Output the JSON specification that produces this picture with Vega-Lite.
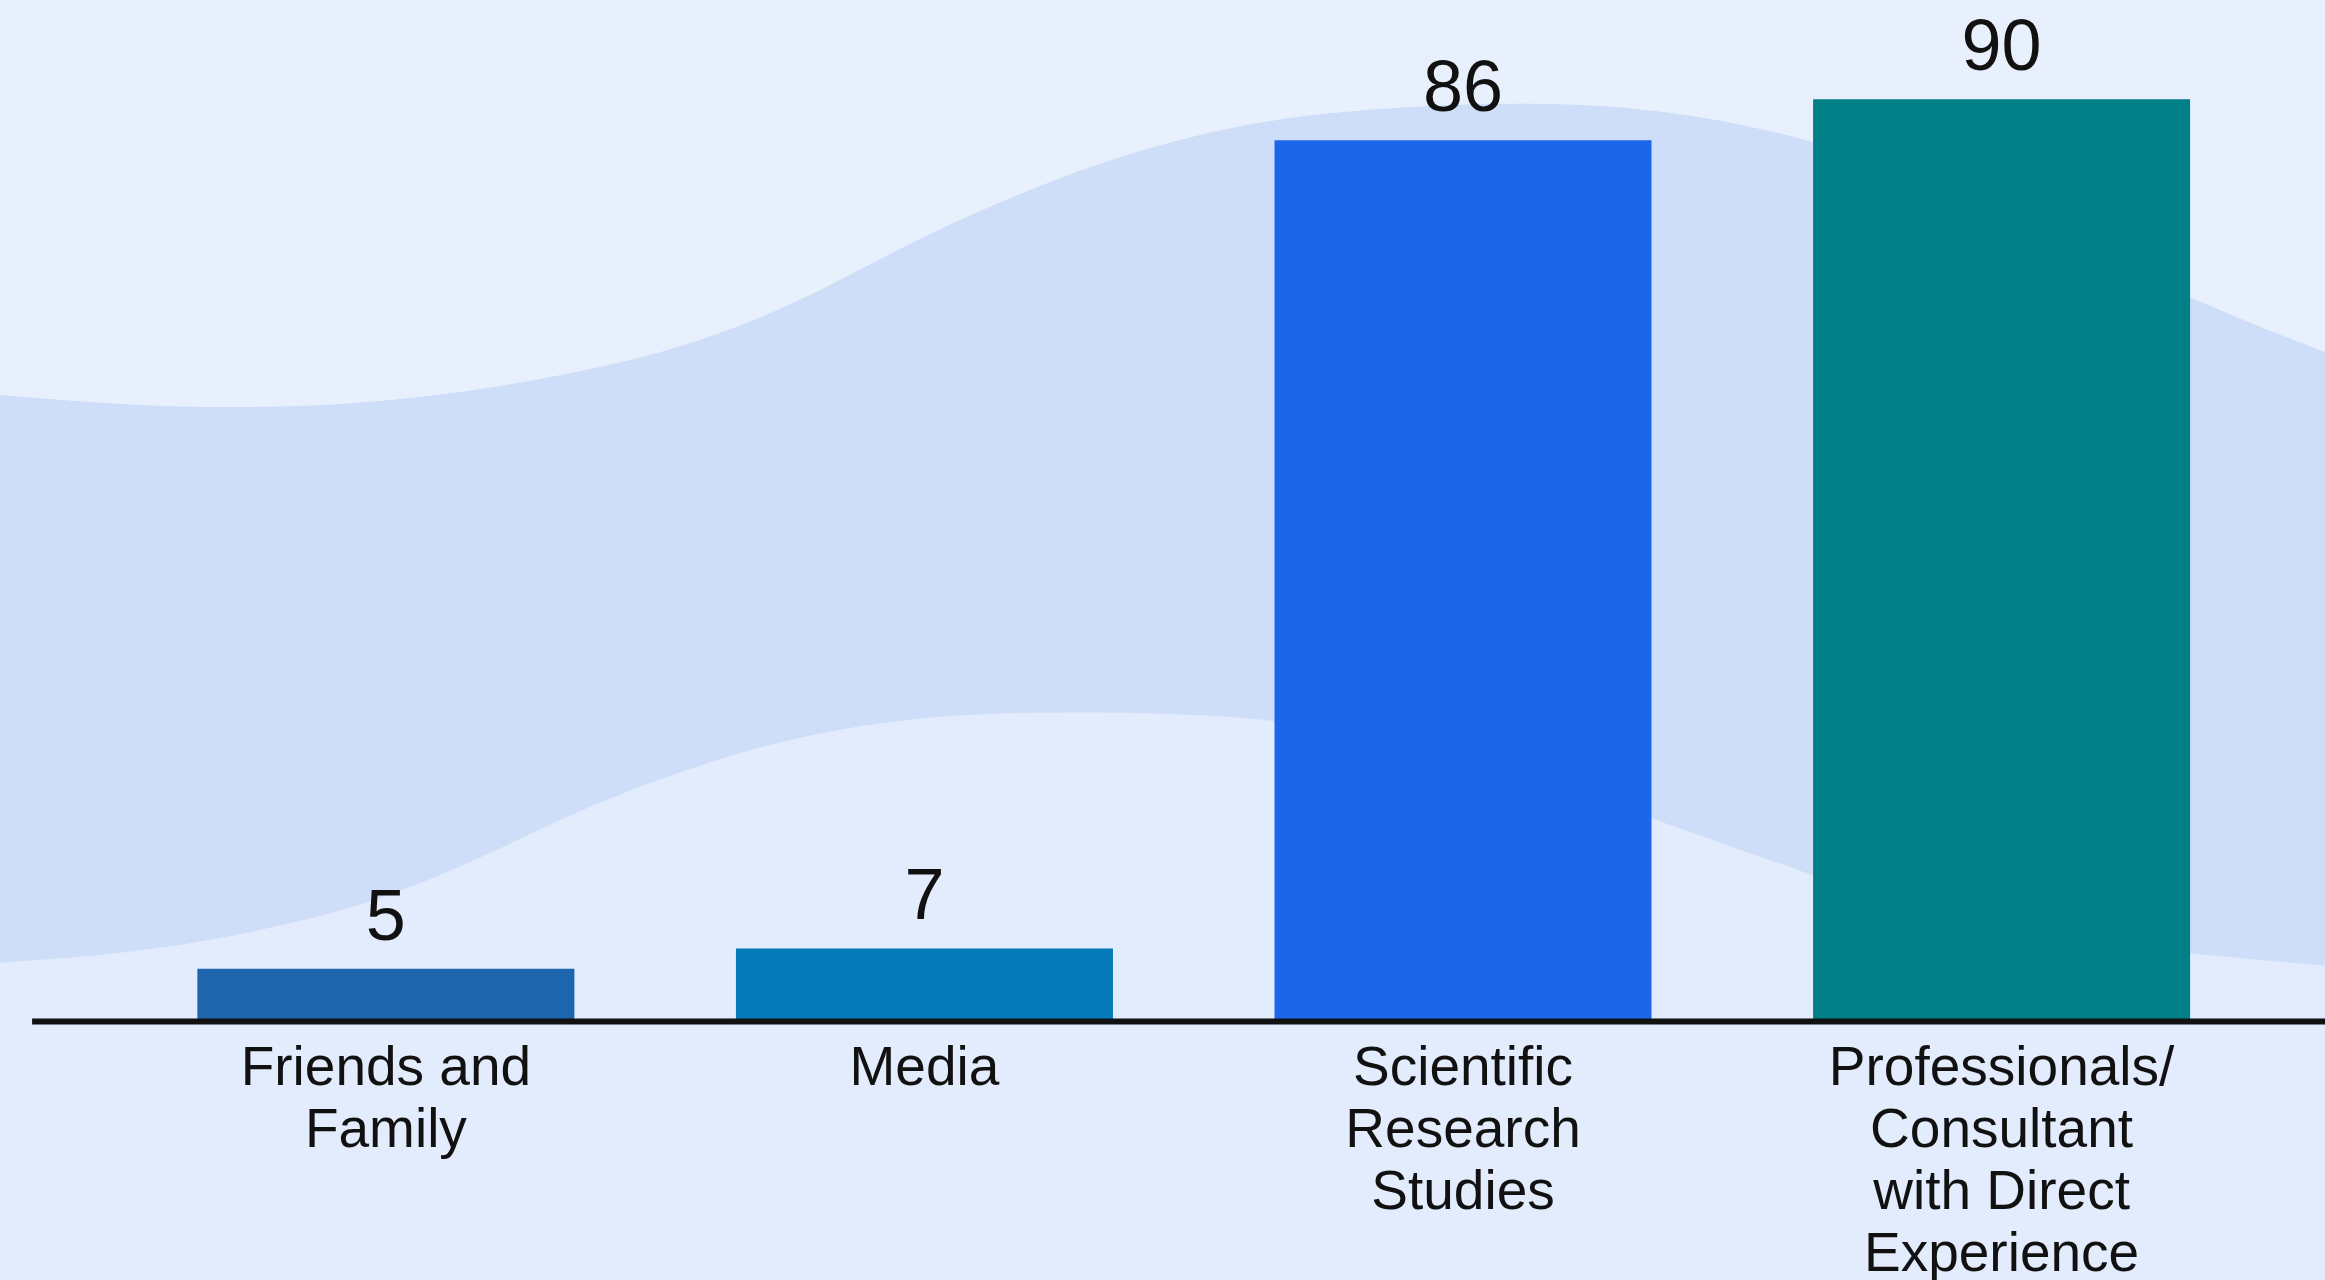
{
  "$schema": "https://vega.github.io/schema/vega-lite/v6.json",
  "width": 2325,
  "height": 1020,
  "autosize": {"type": "none"},
  "padding": {"left": 0, "top": 0, "right": 0, "bottom": 260},
  "background": "#e3ecfc",
  "config": {"view": {"stroke": null}},
  "datasets": {
    "upperEdge": [
      {"pos": 0, "v": 61.1},
      {"pos": 5.3, "v": 60.1},
      {"pos": 10.7, "v": 59.8},
      {"pos": 16.0, "v": 60.3},
      {"pos": 21.4, "v": 61.8},
      {"pos": 26.8, "v": 64.2},
      {"pos": 30.3, "v": 66.5},
      {"pos": 33.9, "v": 69.7},
      {"pos": 37.5, "v": 74.0},
      {"pos": 41.0, "v": 78.0},
      {"pos": 44.6, "v": 81.5},
      {"pos": 48.1, "v": 84.4},
      {"pos": 51.7, "v": 86.7},
      {"pos": 55.9, "v": 88.5},
      {"pos": 61.0, "v": 89.4},
      {"pos": 66.1, "v": 89.7},
      {"pos": 71.0, "v": 89.2},
      {"pos": 77.8, "v": 86.5},
      {"pos": 86.0, "v": 79.5},
      {"pos": 94.1, "v": 70.5},
      {"pos": 100, "v": 65.3}
    ],
    "lowerEdge": [
      {"pos": 0, "v": 5.6},
      {"pos": 4.5, "v": 6.3},
      {"pos": 8.9, "v": 7.6},
      {"pos": 14.3, "v": 10.3},
      {"pos": 17.8, "v": 13.0},
      {"pos": 21.4, "v": 16.6},
      {"pos": 24.9, "v": 20.5},
      {"pos": 28.5, "v": 23.7},
      {"pos": 32.1, "v": 26.4},
      {"pos": 35.7, "v": 28.3},
      {"pos": 39.2, "v": 29.5},
      {"pos": 42.8, "v": 30.0},
      {"pos": 46.4, "v": 30.1},
      {"pos": 49.9, "v": 30.0},
      {"pos": 54.6, "v": 29.5},
      {"pos": 60.0, "v": 27.4},
      {"pos": 65.0, "v": 24.4},
      {"pos": 70.9, "v": 19.9},
      {"pos": 77.9, "v": 14.1},
      {"pos": 82.0, "v": 11.3},
      {"pos": 86.0, "v": 9.3},
      {"pos": 90.0, "v": 7.6},
      {"pos": 94.1, "v": 6.5},
      {"pos": 100, "v": 5.3}
    ],
    "bars": [
      {"source": "Friends and Family", "value": 5},
      {"source": "Media", "value": 7},
      {"source": "Scientific Research Studies", "value": 86},
      {"source": "Professionals/Consultant with Direct Experience", "value": 90}
    ]
  },
  "layer": [
    {
      "data": {"name": "upperEdge"},
      "mark": {"type": "area", "interpolate": "basis", "color": "#cfdef8", "clip": true},
      "encoding": {
        "x": {"field": "pos", "type": "quantitative", "scale": {"domain": [0, 100], "nice": false, "zero": false}, "axis": null},
        "y": {"field": "v", "type": "quantitative", "scale": {"domain": [0, 99.7], "nice": false}, "axis": null},
        "y2": {"datum": 0}
      }
    },
    {
      "data": {"name": "upperEdge"},
      "mark": {"type": "area", "interpolate": "basis", "color": "#e8f0fd", "clip": true},
      "encoding": {
        "x": {"field": "pos", "type": "quantitative", "scale": {"domain": [0, 100], "nice": false, "zero": false}, "axis": null},
        "y": {"field": "v", "type": "quantitative", "scale": {"domain": [0, 99.7], "nice": false}, "axis": null},
        "y2": {"datum": 99.7}
      }
    },
    {
      "data": {"name": "lowerEdge"},
      "mark": {"type": "area", "interpolate": "basis", "color": "#e3ecfc", "clip": true},
      "encoding": {
        "x": {"field": "pos", "type": "quantitative", "scale": {"domain": [0, 100], "nice": false, "zero": false}, "axis": null},
        "y": {"field": "v", "type": "quantitative", "scale": {"domain": [0, 99.7], "nice": false}, "axis": null},
        "y2": {"datum": 0}
      }
    },
    {
      "data": {"name": "bars"},
      "encoding": {
        "x": {
          "field": "source",
          "type": "nominal",
          "sort": null,
          "scale": {"paddingInner": 0.3, "paddingOuter": 0.3085, "align": 0.594},
          "axis": {
            "title": null,
            "domain": false,
            "ticks": false,
            "tickSize": 0,
            "labelAngle": 0,
            "labelPadding": 21,
            "labelFont": "Liberation Sans",
            "labelFontSize": 55,
            "labelColor": "#111111",
            "labelLineHeight": 62,
            "labelBaseline": "top",
            "labelLimit": 0,
            "labelExpr": "datum.value == 'Friends and Family' ? ['Friends and', 'Family'] : datum.value == 'Scientific Research Studies' ? ['Scientific', 'Research', 'Studies'] : datum.value == 'Professionals/Consultant with Direct Experience' ? ['Professionals/', 'Consultant', 'with Direct', 'Experience'] : datum.value"
          }
        },
        "y": {"field": "value", "type": "quantitative", "scale": {"domain": [0, 99.7], "nice": false}, "axis": null}
      },
      "layer": [
        {
          "mark": {"type": "bar"},
          "encoding": {
            "color": {
              "field": "source",
              "type": "nominal",
              "scale": {
                "domain": ["Friends and Family", "Media", "Scientific Research Studies", "Professionals/Consultant with Direct Experience"],
                "range": ["#1d65ad", "#047bb8", "#1c66ea", "#007f86"]
              },
              "legend": null
            }
          }
        },
        {
          "mark": {"type": "text", "baseline": "alphabetic", "dy": -29, "font": "Liberation Sans", "fontSize": 72, "color": "#111111"},
          "encoding": {"text": {"field": "value", "type": "quantitative"}}
        }
      ]
    },
    {
      "data": {"values": [{}]},
      "mark": {"type": "rule", "color": "#111111", "strokeWidth": 6},
      "encoding": {
        "x": {"datum": 1.38, "type": "quantitative", "scale": {"domain": [0, 100], "nice": false, "zero": false}, "axis": null},
        "x2": {"datum": 100},
        "y": {"datum": -0.15, "type": "quantitative", "scale": {"domain": [0, 99.7], "nice": false}, "axis": null}
      }
    }
  ],
  "resolve": {"scale": {"x": "independent"}}
}
